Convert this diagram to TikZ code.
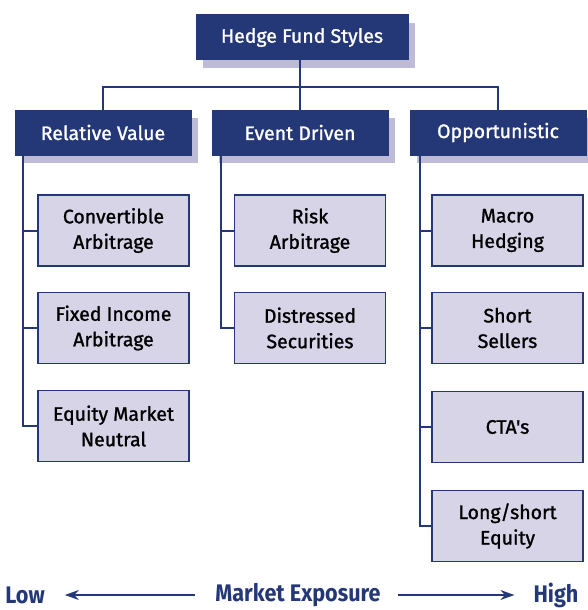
\documentclass[tikz,border=0pt]{standalone}
\usepackage{fontspec}
\setmainfont{Fira Sans}
\newfontfamily\boxfont[FakeBold=1.2]{Fira Sans}
\newfontfamily\axisfont[FakeStretch=0.9]{Fira Sans}
\usetikzlibrary{arrows.meta,shadows}
\definecolor{hfnavy}{RGB}{36,56,120}
\definecolor{hflilac}{RGB}{214,212,230}
\definecolor{hfshade}{RGB}{189,187,214}

\begin{document}
\begin{tikzpicture}[
  x=1pt, y=-1pt,
  every node/.style={inner sep=0pt, align=center, font=\boxfont\fontsize{19.5}{25.5}\selectfont},
  headbox/.style={draw=hfnavy, fill=hfnavy, text=white, line width=1pt, minimum height=45pt,
    drop shadow={shadow xshift=7pt, shadow yshift=-8pt, fill=hfshade, opacity=1}},
  leafbox/.style={draw=hfnavy, fill=hflilac, line width=1.5pt, minimum width=151pt, minimum height=71pt},
  link/.style={draw=hfnavy, line width=2pt},
  axisarrow/.style={draw=hfnavy, line width=1.3pt, -{Stealth[length=14pt,width=10pt]}},
  axislabel/.style={text=hfnavy, font=\axisfont\bfseries\fontsize{24}{24}\selectfont}
]
\useasboundingbox (0,0) rectangle (588,610);

% top and the three style groups
\node[headbox, minimum width=212pt] (hfs) at (302,37.5) {Hedge Fund Styles};
\node[headbox, minimum width=176pt] (rv) at (103,132.5) {Relative Value};
\node[headbox, minimum width=176pt] (ed) at (300,132.5) {Event Driven};
\node[headbox, minimum width=176pt] (opp) at (498,132.5) {Opportunistic};

% strategies under each group
\node[leafbox] (cvarb) at (113.5,230.5) {Convertible\\Arbitrage};
\node[leafbox] (fiarb) at (113.5,328) {Fixed Income\\Arbitrage};
\node[leafbox] (emn) at (113.5,426) {Equity Market\\Neutral};

\node[leafbox] (riskarb) at (310,230.5) {Risk\\Arbitrage};
\node[leafbox] (distr) at (310,328) {Distressed\\Securities};

\node[leafbox] (macro) at (507.5,230.5) {Macro\\Hedging};
\node[leafbox] (short) at (507.5,328) {Short\\Sellers};
\node[leafbox] (cta) at (507.5,427) {CTA's};
\node[leafbox] (lse) at (507.5,526) {Long/short\\Equity};

% tree lines
\draw[link] (hfs.south -| ed.north) -- (ed.north);
\draw[link] (rv.north) -- ++(0,-23) -| (opp.north);

\draw[link] ([xshift=8pt]rv.south west) |- (cvarb.west);
\draw[link] ([xshift=8pt]rv.south west) |- (fiarb.west);
\draw[link] ([xshift=8pt]rv.south west) |- (emn.west);

\draw[link] ([xshift=9pt]ed.south west) |- (riskarb.west);
\draw[link] ([xshift=9pt]ed.south west) |- (distr.west);

\draw[link] ([xshift=10pt]opp.south west) |- (macro.west);
\draw[link] ([xshift=10pt]opp.south west) |- (short.west);
\draw[link] ([xshift=10pt]opp.south west) |- (cta.west);
\draw[link] ([xshift=10pt]opp.south west) |- (lse.west);

% exposure axis
\node[axislabel] (low) at (25,595) {Low};
\node[axislabel] (mexp) at (298,595) {Market Exposure};
\node[axislabel] (high) at (556,595) {High};
\draw[axisarrow] ([xshift=-20pt]mexp.west) -- ([xshift=20pt]low.east);
\draw[axisarrow] ([xshift=17pt]mexp.east) -- ([xshift=-19pt]high.west);
\end{tikzpicture}
\end{document}
